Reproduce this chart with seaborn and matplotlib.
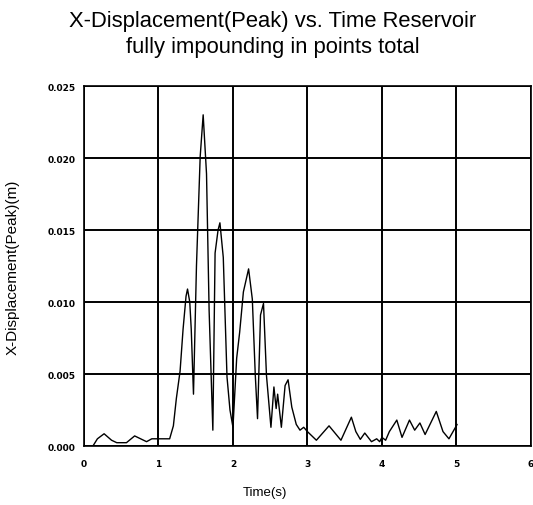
import matplotlib
matplotlib.use("Agg")
import matplotlib.pyplot as plt
import seaborn as sns
import pandas as pd

# Peak X-displacement history (time in s, displacement in m)
time_s = [0.12, 0.18, 0.27, 0.37, 0.44, 0.57, 0.68, 0.76, 0.84, 0.91,
          1.15, 1.20, 1.24, 1.29, 1.33, 1.37, 1.39, 1.42, 1.44, 1.47,
          1.51, 1.56, 1.60, 1.645, 1.68, 1.73, 1.76, 1.80, 1.825, 1.87,
          1.92, 1.96, 2.00, 2.05, 2.09, 2.14, 2.21, 2.26, 2.30, 2.33,
          2.37, 2.41, 2.45, 2.51, 2.55, 2.58, 2.60, 2.65, 2.70, 2.74,
          2.79, 2.85, 2.90, 2.95, 3.00, 3.12, 3.29, 3.45, 3.59, 3.65,
          3.71, 3.77, 3.86, 3.93, 3.97, 4.00, 4.05, 4.10, 4.20, 4.27,
          4.37, 4.44, 4.51, 4.58, 4.73, 4.82, 4.90, 5.01]
x_disp_peak = [0.0000, 0.0005, 0.00085, 0.0004, 0.00023, 0.00023, 0.0007, 0.0005, 0.0003, 0.0005,
               0.0005, 0.0014, 0.0033, 0.0052, 0.0081, 0.0104, 0.0109, 0.0100, 0.0081, 0.0036,
               0.0125, 0.0201, 0.0230, 0.0189, 0.0094, 0.0011, 0.0134, 0.0150, 0.0155, 0.0131,
               0.0048, 0.0025, 0.0013, 0.0061, 0.0079, 0.0107, 0.0123, 0.0102, 0.0049, 0.0019,
               0.0091, 0.0099, 0.0049, 0.0013, 0.0041, 0.0026, 0.0036, 0.0013, 0.0042, 0.0046,
               0.0027, 0.0015, 0.0011, 0.0013, 0.0010, 0.0004, 0.0014, 0.0004, 0.0020, 0.0010,
               0.00046, 0.0009, 0.0003, 0.0005, 0.0003, 0.0006, 0.0004, 0.0010, 0.0018, 0.0006,
               0.0018, 0.0011, 0.0016, 0.0008, 0.0024, 0.0010, 0.0005, 0.0015]

x_ticks = [0, 1, 2, 3, 4, 5, 6]
y_ticks = [0.000, 0.005, 0.010, 0.015, 0.020, 0.025]
y_tick_labels = ["0.000", "0.005", "0.010", "0.015", "0.020", "0.025"]

title_line1 = "X-Displacement(Peak) vs. Time Reservoir"
title_line2 = "fully impounding in points total"
x_label = "Time(s)"
y_label = "X-Displacement(Peak)(m)"

sns.set_style("white")
plt.rcParams["font.family"] = ["Liberation Sans", "DejaVu Sans"]
plt.rcParams.update({
    "text.color": "black",
    "axes.labelcolor": "black",
    "xtick.color": "black",
    "ytick.color": "black",
})

df = pd.DataFrame({"t": time_s, "u": x_disp_peak})

fig = plt.figure(figsize=(5.33, 5.06), dpi=100)
ax = fig.add_axes([0.1576, 0.1166, 0.8384, 0.7114])

sns.lineplot(data=df, x="t", y="u", ax=ax, color="black", linewidth=1.0)

ax.set_xlim(0, 6)
ax.set_ylim(0, 0.025)
ax.set_xticks(x_ticks)
ax.set_yticks(y_ticks)
ax.set_yticklabels(y_tick_labels)
ax.grid(True, color="black", linewidth=1.4)
ax.set_axisbelow(True)
for s in ax.spines.values():
    s.set_color("black")
    s.set_linewidth(1.2)

ax.tick_params(axis="both", direction="out", length=4, width=1, color="black",
               labelcolor="black", labelsize=6.5, pad=2)
ax.tick_params(axis="x", pad=5)
for lbl in ax.get_xticklabels() + ax.get_yticklabels():
    lbl.set_family("DejaVu Sans")
    lbl.set_fontweight("bold")

ax.set_xlabel("")
ax.set_ylabel(y_label, fontsize=11, color="black")
ax.yaxis.set_label_coords(-0.145, 0.5)

fig.text(0.511, 1 - 22 / 506, title_line1, ha="center", va="center", fontsize=15.8, color="black")
fig.text(0.511, 1 - 48 / 506, title_line2, ha="center", va="center", fontsize=15.8, color="black")
fig.text(0.497, 1 - 493 / 506, x_label, ha="center", va="center", fontsize=9.5, color="black")

fig.savefig("out.png", dpi=100, facecolor="white")
